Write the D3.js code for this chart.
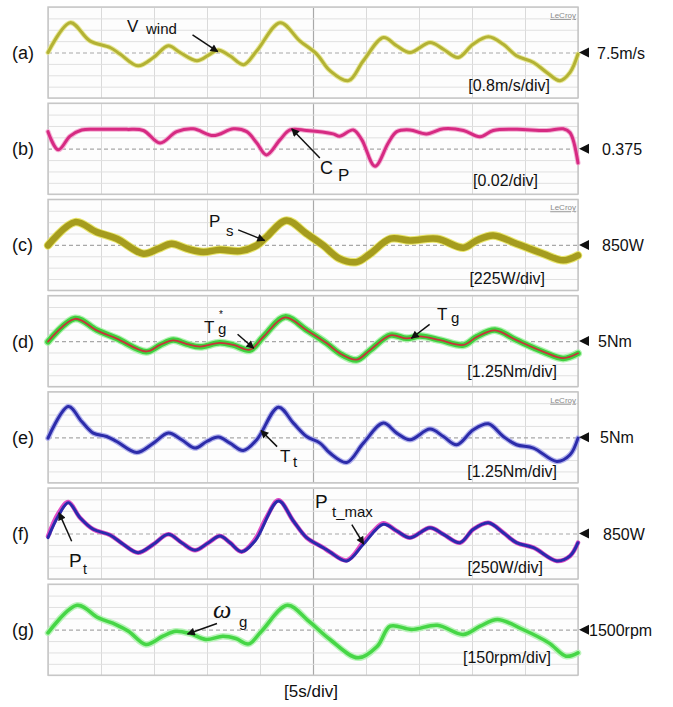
<!DOCTYPE html>
<html>
<head>
<meta charset="utf-8">
<script src="https://cdn.jsdelivr.net/npm/d3@7"></script>
<style>
  body { margin: 0; background: #fff; }
  svg { display: block; }
  text { font-family: "Liberation Sans", Arial, Helvetica, sans-serif; fill: #111; }
</style>
</head>
<body>
<svg id="chart" width="673" height="707"></svg>
<script>
// ---- time base: 10 divisions of 5 s ----
const timeTicks = d3.range(0, 51, 5);
const timeLabel = "[5s/div]";

// ---- per-trace scope settings ----
const panelLabels  = ["(a)", "(b)", "(c)", "(d)", "(e)", "(f)", "(g)"];
const centerValues = [7.5, 0.375, 850, 5, 5, 850, 1500];
const perDiv       = [0.8, 0.02, 225, 1.25, 1.25, 250, 150];
const markerLabels = ["7.5m/s", "0.375", "850W", "5Nm", "5Nm", "850W", "1500rpm"];
const scaleLabels  = ["[0.8m/s/div]", "[0.02/div]", "[225W/div]", "[1.25Nm/div]",
                      "[1.25Nm/div]", "[250W/div]", "[150rpm/div]"];

// ---- recorded waveforms: [time s, value] ----
const vWind = [[0,7.5],[2.1,9.6],[3.95,8.32],[5.85,7.85],[6.8,7.39],[8.5,6.56],[9.95,7.15],
  [11.35,7.97],[12.45,7.5],[14.05,6.92],[15.3,7.39],[16.05,7.67],[17.15,7.27],[18.45,6.64],
  [19.7,7.62],[21.9,9.6],[23.75,8.32],[25.35,7.39],[26.6,6.22],[28.35,5.52],[29.75,6.92],
  [31.65,8.56],[32.9,7.97],[34.15,7.5],[36.05,8.2],[37.3,7.73],[38.7,7.15],[40.1,8.08],
  [41.55,8.6],[42.95,8.08],[44.2,7.27],[45.8,6.8],[47.05,6.1],[48.3,5.52],[49.25,6.1],[50,7.39]];

const cp = [[0,0.405],[0.97,0.373],[2.08,0.397],[3.18,0.408],[4.9,0.409],[7.42,0.409],
  [9.0,0.407],[10.57,0.385],[12.14,0.405],[13.7,0.41],[15.6,0.398],[17.5,0.41],[18.75,0.405],
  [19.7,0.385],[20.6,0.364],[21.9,0.391],[22.83,0.408],[24.4,0.407],[26.9,0.401],[27.5,0.397],
  [28.8,0.408],[29.6,0.391],[30.85,0.344],[32.1,0.385],[32.9,0.405],[34.15,0.408],[35.7,0.401],
  [37.3,0.41],[39.2,0.407],[40.75,0.396],[42.0,0.407],[44.2,0.409],[47.05,0.407],[48.6,0.41],
  [49.25,0.403],[50,0.35]];

const ps = [[0,840],[2.55,1300],[4.6,1103],[6.48,972],[9.0,676],[10.4,775],[11.67,874],
  [13.1,775],[14.65,708],[16.2,755],[18.1,727],[19.7,840],[20.6,1004],[22.5,1334],[24.4,1071],
  [25.97,840],[27.5,578],[29.1,510],[30.4,676],[32.3,972],[34.15,939],[36.7,972],[39.2,795],
  [40.44,939],[42.0,1037],[44.2,874],[46.7,676],[48.6,544],[50,643]];

const tg = [[0,4.92],[2.55,7.49],[4.6,6.21],[6.48,5.3],[9.28,3.83],[10.57,4.56],[11.82,5.11],
  [13.1,4.67],[14.34,4.37],[16.2,4.81],[17.5,4.56],[19.06,4.01],[20.3,5.47],[22.36,7.66],
  [24.4,6.21],[26.3,4.75],[27.5,3.65],[29.1,2.92],[30.4,4.01],[32.3,5.66],[33.84,5.3],
  [35.1,5.55],[37.0,5.11],[39.2,4.56],[40.44,5.47],[42.17,6.21],[44.2,5.11],[46.7,3.83],
  [48.6,3.1],[50,3.65]];

const tgRef = [[0,4.95],[2.55,7.45],[4.6,6.18],[6.48,5.28],[9.28,3.86],[10.57,4.58],[11.82,5.08],
  [13.1,4.68],[14.34,4.4],[16.2,4.8],[17.5,4.58],[19.06,4.05],[20.3,5.45],[22.36,7.6],
  [24.4,6.2],[26.3,4.76],[27.5,3.68],[29.1,2.96],[30.4,4.03],[32.3,5.63],[33.84,5.3],
  [35.1,5.53],[37.0,5.1],[39.2,4.58],[40.44,5.45],[42.17,6.18],[44.2,5.1],[46.7,3.85],
  [48.6,3.13],[50,3.66]];

const tt = [[0,4.91],[1.92,8.38],[3.18,6.73],[4.27,5.46],[5.53,5.09],[6.48,4.54],[8.37,3.33],
  [9.95,4.36],[11.35,5.46],[12.61,4.73],[13.87,3.82],[14.97,4.54],[16.07,5.02],[17.17,4.36],
  [18.42,3.55],[19.69,4.73],[21.74,8.31],[23.15,6.56],[24.4,5.09],[25.66,4.36],[26.6,3.27],
  [28.18,2.24],[29.75,4.36],[31.63,6.56],[32.9,5.46],[34.15,4.73],[36.04,5.9],[37.3,5.09],
  [38.56,4.18],[40.12,5.82],[41.54,6.48],[42.95,5.09],[44.2,4.18],[45.8,3.82],[48.0,2.35],
  [49.25,3.08],[50,4.91]];

const pt = [[0,758],[0.97,1234],[1.92,1526],[3.02,1196],[4.27,942],[5.85,817],[7.1,613],
  [8.5,429],[9.95,613],[11.35,832],[12.61,648],[13.87,482],[15.13,648],[16.23,795],[17.17,648],
  [18.27,451],[19.53,686],[21.74,1563],[23.15,1124],[24.4,758],[25.97,539],[26.6,444],
  [28.18,247],[29.75,613],[31.63,1052],[32.9,905],[34.15,758],[36.04,977],[37.3,832],
  [38.87,648],[40.12,942],[41.54,1087],[42.95,868],[44.2,648],[45.8,539],[48.0,247],
  [49.25,357],[50,648]];

const ptMax = [[0,790],[0.97,1290],[1.92,1540],[3.02,1196],[4.27,942],[5.85,817],[7.1,613],
  [8.5,429],[9.95,613],[11.35,832],[12.61,648],[13.87,482],[15.13,648],[16.23,795],[17.17,648],
  [18.27,451],[19.53,720],[20.6,1200],[21.74,1580],[23.15,1124],[24.4,758],[25.97,539],[26.6,444],
  [28.18,260],[29.75,660],[30.7,900],[31.63,1075],[32.9,905],[34.15,758],[36.04,977],[37.3,832],
  [38.87,648],[40.12,942],[41.54,1087],[42.95,868],[44.2,648],[45.8,539],[48.0,247],
  [49.25,357],[50,648]];

const omegaG = [[0,1458],[2.75,1822],[4.77,1655],[6.4,1568],[7.6,1480],[9.23,1305],[10.84,1414],
  [12.06,1480],[13.47,1445],[14.89,1371],[16.5,1414],[17.72,1384],[18.93,1313],[20.14,1480],
  [22.58,1822],[24.6,1612],[26.6,1371],[29.25,1129],[31.07,1283],[32.28,1546],[34.3,1503],
  [36.74,1559],[39.16,1437],[40.77,1546],[42.4,1634],[44.8,1503],[47.25,1326],[48.87,1151],
  [50,1195]];

// ---- layout ----
const svg = d3.select("#chart");
const X0 = 48, X1 = 578, PANEL_H = 91, PANEL_STEP = 96.2, TOP0 = 7;
const x = d3.scaleLinear().domain([0, 50]).range([X0, X1]);

const traces = [
  [{ data: vWind, color: "#b3b234", width: 3, glow: "#e4e48a", glowW: 5 }],
  [{ data: cp, color: "#d62a82", width: 3, glow: "#f3a6cf", glowW: 5 }],
  [{ data: ps, color: "#a59c1e", width: 6.5, glow: "#e6e25a", glowW: 8.5 }],
  [{ data: tg, color: "#3fd03f", width: 5.5, glow: "#a6f2a6", glowW: 8 },
   { data: tgRef, color: "#c8323a", width: 1.8 }],
  [{ data: tt, color: "#2c2caa", width: 3, glow: "#a8a8ea", glowW: 5.5 }],
  [{ data: ptMax, color: "#de4cc4", width: 4.5 },
   { data: pt, color: "#2a2aac", width: 3 }],
  [{ data: omegaG, color: "#46d646", width: 3.5, glow: "#b2f2b2", glowW: 6.5 }]
];

const scaleLabelPos = [[550, 84], [538, 83], [545, 85], [557, 81], [557, 85], [543, 85], [551, 79]];
const markerTextX = [597, 602, 602, 598, 600, 603, 589];
const lecroyPanels = [0, 2, 4];

const yScales = [];

// arrowhead
svg.append("defs").append("marker")
  .attr("id", "head").attr("viewBox", "0 0 10 10")
  .attr("refX", 9).attr("refY", 5)
  .attr("markerWidth", 9).attr("markerHeight", 8)
  .attr("markerUnits", "userSpaceOnUse").attr("orient", "auto")
  .append("path").attr("d", "M0,0 L10,5 L0,10 z").attr("fill", "#111");

panelLabels.forEach((lab, i) => {
  const top = TOP0 + i * PANEL_STEP;
  const c = centerValues[i], pd = perDiv[i];
  const y = d3.scaleLinear().domain([c - 4 * pd, c + 4 * pd]).range([top + PANEL_H, top]);
  yScales.push(y);
  const cy = y(c);
  const g = svg.append("g");

  // frame background
  g.append("rect").attr("x", X0).attr("y", top).attr("width", X1 - X0).attr("height", PANEL_H)
    .attr("fill", "#fdfdfd");

  // vertical grid (time divisions)
  const gx = g.append("g").attr("transform", `translate(0,${top + PANEL_H})`)
    .call(d3.axisBottom(x).tickValues(timeTicks).tickSize(-PANEL_H).tickFormat(""));
  gx.select(".domain").remove();
  gx.selectAll(".tick line")
    .attr("stroke", d => d === 25 ? "#a9a9a9" : "#dadada")
    .attr("stroke-width", d => d === 25 ? 1.2 : 1);

  // horizontal grid (amplitude divisions)
  const yTicks = d3.range(-4, 5).map(k => c + k * pd);
  const gy = g.append("g").attr("transform", `translate(${X0},0)`)
    .call(d3.axisLeft(y).tickValues(yTicks).tickSize(-(X1 - X0)).tickFormat(""));
  gy.select(".domain").remove();
  gy.selectAll(".tick line")
    .attr("stroke", (d, k) => k === 4 ? "#a8a8a8" : "#e0e0e0")
    .attr("stroke-dasharray", (d, k) => k === 4 ? "4,3" : null)
    .attr("stroke-width", (d, k) => k === 4 ? 1.2 : 1);

  // frame border
  g.append("rect").attr("x", X0).attr("y", top).attr("width", X1 - X0).attr("height", PANEL_H)
    .attr("fill", "none").attr("stroke", "#c4c4c4").attr("stroke-width", 1.4);

  // traces
  const line = d3.line().x(d => x(d[0])).y(d => y(d[1])).curve(d3.curveCatmullRom.alpha(0.5));
  traces[i].forEach(s => {
    if (s.glow) {
      g.append("path").datum(s.data).attr("d", line).attr("fill", "none")
        .attr("stroke", s.glow).attr("stroke-width", s.glowW)
        .attr("stroke-linejoin", "round").attr("stroke-linecap", "round").attr("opacity", 0.9);
    }
    g.append("path").datum(s.data).attr("d", line).attr("fill", "none")
      .attr("stroke", s.color).attr("stroke-width", s.width)
      .attr("stroke-linejoin", "round").attr("stroke-linecap", "round");
  });

  // panel letter
  svg.append("text").attr("x", 12).attr("y", cy + 6.5).attr("font-size", 18).text(lab);

  // reference level marker
  svg.append("path")
    .attr("d", `M${X1 + 1},${cy} L${X1 + 11},${cy - 5} L${X1 + 11},${cy + 5} Z`)
    .attr("fill", "#111");
  svg.append("text").attr("x", markerTextX[i]).attr("y", cy + 6)
    .attr("font-size", 16).text(markerLabels[i]);

  // volts/div style label
  svg.append("text").attr("x", scaleLabelPos[i][0]).attr("y", top + scaleLabelPos[i][1])
    .attr("text-anchor", "end").attr("font-size", 16).text(scaleLabels[i]);

  if (lecroyPanels.includes(i)) {
    svg.append("text").attr("x", X1 - 2).attr("y", top + 11).attr("text-anchor", "end")
      .attr("font-size", 8).attr("text-decoration", "underline")
      .style("fill", "#8a8a8a").text("LeCroy");
  }
});

// time base label
svg.append("text").attr("x", 311).attr("y", 697).attr("text-anchor", "middle")
  .attr("font-size", 17).text(timeLabel);

// ---- trace annotations ----
function valueAt(data, t) {
  const i = d3.bisector(d => d[0]).left(data, t);
  if (i <= 0) return data[0][1];
  if (i >= data.length) return data[data.length - 1][1];
  const a = data[i - 1], b = data[i];
  return a[1] + (b[1] - a[1]) * (t - a[0]) / (b[0] - a[0]);
}
function arrow(panel, data, t, dx, dy) {
  const tx = x(t), ty = yScales[panel](valueAt(data, t));
  const len = Math.hypot(dx, dy);
  svg.append("line")
    .attr("x1", tx + dx).attr("y1", ty + dy)
    .attr("x2", tx - dx / len * 1.5).attr("y2", ty - dy / len * 1.5)
    .attr("stroke", "#111").attr("stroke-width", 1.5).attr("marker-end", "url(#head)");
}
function label(parts) {
  parts.forEach(p => {
    const t = svg.append("text").attr("x", p[1]).attr("y", p[2]).attr("font-size", p[3]).text(p[0]);
    if (p[4]) t.attr("font-style", "italic").style("font-family", "'Liberation Serif', 'DejaVu Serif', serif");
  });
}

label([["V", 127, 32, 17], ["wind", 146, 34, 15]]);
arrow(0, vWind, 15.9, -24, -16);

label([["C", 320, 174, 18], ["P", 338, 181, 17]]);
arrow(1, cp, 23.1, 27, 28);

label([["P", 209, 227, 17], ["s", 226, 236, 15]]);
arrow(2, ps, 20.3, -25, -10);

label([["T", 204, 333, 17], ["*", 219, 318, 10], ["g", 218, 334, 15]]);
arrow(3, tgRef, 19.3, -15, -13);
label([["T", 437, 320, 17], ["g", 451, 323, 15]]);
arrow(3, tg, 34.4, 17, -13);

label([["T", 280, 462, 17], ["t", 293, 467, 15]]);
arrow(4, tt, 20.2, 15, 15);

label([["P", 69, 567, 19], ["t", 83, 574, 14]]);
arrow(5, pt, 1.1, 12, 27);
label([["P", 315, 508, 19], ["t_max", 332, 517, 15]]);
arrow(5, ptMax, 29.7, -11, -18);

label([["ω", 213, 618, 26, true], ["g", 239, 627, 15]]);
arrow(6, omegaG, 13.3, 28, -10);
</script>
</body>
</html>
